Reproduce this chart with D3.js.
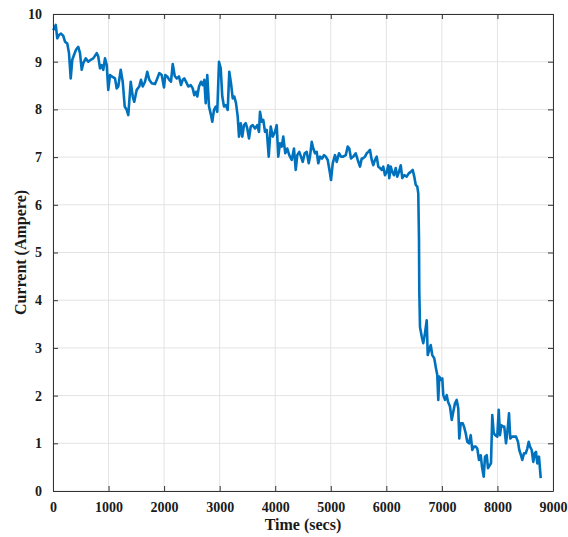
<!DOCTYPE html>
<html>
<head>
<meta charset="utf-8">
<script src="https://cdn.jsdelivr.net/npm/d3@7"></script>
<style>
  html, body { margin: 0; padding: 0; background: #fff; }
  svg { display: block; }
</style>
</head>
<body>
<div id="chart"></div>
<script>
// Measured current over time
const timeSecs = [
  5, 49, 77, 108, 144, 185, 216, 257, 288, 319, 347, 378, 414, 455, 486, 517, 545, 589, 635, 679,
  725, 787, 815, 846, 877, 905, 936, 967, 995, 1026, 1057, 1116, 1147, 1175, 1219, 1255, 1291, 1327, 1355, 1399,
  1435, 1463, 1507, 1553, 1584, 1615, 1656, 1697, 1733, 1777, 1836, 1877, 1913, 1957, 1998, 2021, 2057, 2093, 2124, 2155,
  2191, 2227, 2268, 2304, 2335, 2363, 2407, 2435, 2479, 2515, 2543, 2574, 2597, 2628, 2664, 2695, 2723, 2749, 2777, 2808,
  2844, 2867, 2898, 2929, 2957, 2988, 3019, 3047, 3078, 3109, 3145, 3173, 3204, 3235, 3263, 3294, 3325, 3348, 3379, 3407,
  3438, 3469, 3497, 3528, 3559, 3595, 3636, 3677, 3708, 3726, 3757, 3785, 3816, 3847, 3883, 3919, 3955, 3996, 4027, 4055,
  4086, 4117, 4145, 4181, 4217, 4253, 4297, 4338, 4369, 4397, 4433, 4464, 4495, 4531, 4567, 4603, 4626, 4657, 4685, 4716,
  4747, 4775, 4806, 4842, 4878, 4909, 4945, 4986, 5004, 5035, 5076, 5107, 5148, 5184, 5225, 5269, 5305, 5333, 5364, 5405,
  5449, 5485, 5526, 5557, 5575, 5616, 5647, 5675, 5706, 5737, 5765, 5796, 5827, 5855, 5886, 5917, 5945, 5976, 6007, 6035,
  6053, 6079, 6107, 6138, 6169, 6197, 6228, 6259, 6287, 6323, 6367, 6403, 6439, 6475, 6503, 6529, 6557, 6575, 6588, 6593,
  6606, 6637, 6665, 6696, 6727, 6745, 6773, 6799, 6827, 6863, 6894, 6917, 6935, 6953, 6984, 7007, 7025, 7056, 7087, 7110,
  7146, 7177, 7205, 7236, 7267, 7295, 7313, 7339, 7375, 7398, 7429, 7457, 7488, 7519, 7547, 7578, 7609, 7637, 7668, 7699,
  7722, 7753, 7776, 7807, 7830, 7861, 7884, 7907, 7933, 7961, 7997, 8023, 8046, 8069, 8100, 8123, 8154, 8185, 8208, 8231,
  8262, 8298, 8334, 8370, 8393, 8424, 8447, 8478, 8509, 8537, 8563, 8586, 8617, 8645, 8671, 8694, 8717, 8748, 8779
];
const currentAmp = [
  9.66, 9.77, 9.49, 9.56, 9.59, 9.54, 9.42, 9.38, 9.18, 8.65, 9.04, 9.14, 9.25, 9.31, 9.18, 8.83, 8.97, 9.07, 9.00, 9.04,
  9.07, 9.18, 9.11, 8.86, 8.93, 8.83, 9.07, 8.93, 8.41, 8.72, 8.69, 8.65, 8.44, 8.48, 8.83, 8.58, 8.06, 7.99, 7.88, 8.58,
  8.27, 8.16, 8.41, 8.48, 8.62, 8.48, 8.58, 8.79, 8.62, 8.55, 8.53, 8.65, 8.76, 8.72, 8.46, 8.72, 8.69, 8.62, 8.58, 8.95,
  8.70, 8.65, 8.69, 8.51, 8.62, 8.65, 8.55, 8.48, 8.51, 8.44, 8.30, 8.37, 8.27, 8.48, 8.58, 8.51, 8.62, 8.13, 8.72, 8.06,
  7.88, 7.74, 7.99, 8.06, 7.95, 9.00, 8.86, 8.27, 8.06, 8.09, 7.99, 8.79, 8.55, 8.23, 8.27, 8.13, 7.85, 7.43, 7.71, 7.43,
  7.67, 7.71, 7.60, 7.39, 7.64, 7.67, 7.60, 7.67, 7.53, 7.95, 7.74, 7.78, 7.53, 7.57, 7.01, 7.64, 7.43, 7.53, 7.67, 7.01,
  7.29, 7.22, 7.43, 7.08, 7.18, 7.04, 6.94, 7.18, 6.73, 7.04, 7.11, 7.01, 6.90, 7.08, 7.11, 6.87, 7.01, 7.32, 7.18, 7.08,
  7.11, 6.87, 7.01, 6.97, 7.04, 7.01, 6.94, 6.66, 6.52, 6.87, 7.04, 6.90, 7.08, 7.01, 7.01, 7.04, 7.22, 7.18, 6.97, 7.01,
  7.08, 6.94, 6.80, 6.97, 6.97, 7.01, 7.08, 7.11, 7.15, 6.94, 6.83, 6.94, 7.01, 6.80, 6.77, 6.73, 6.80, 6.62, 6.69, 6.83,
  6.56, 6.80, 6.69, 6.62, 6.77, 6.59, 6.69, 6.83, 6.56, 6.62, 6.59, 6.66, 6.69, 6.73, 6.59, 6.42, 6.38, 6.24, 5.26, 4.21,
  3.44, 3.24, 3.10, 3.31, 3.58, 2.85, 2.96, 3.06, 2.85, 2.78, 2.57, 2.43, 1.91, 2.40, 2.33, 2.36, 2.01, 1.91, 2.01, 1.87,
  1.77, 1.49, 1.66, 1.84, 1.91, 1.73, 1.10, 1.42, 1.42, 1.35, 1.21, 1.03, 1.00, 1.17, 0.86, 0.93, 0.93, 0.89, 0.65, 0.75,
  0.51, 0.30, 0.72, 0.75, 0.48, 0.54, 0.58, 1.59, 1.21, 1.17, 1.14, 1.70, 1.17, 1.38, 1.35, 1.35, 1.00, 1.31, 1.63, 1.10,
  1.14, 1.14, 1.14, 1.03, 0.86, 0.75, 0.65, 0.79, 0.79, 0.89, 1.03, 0.93, 0.86, 0.61, 0.79, 0.82, 0.58, 0.72, 0.27
];

const xTicks = [0, 1000, 2000, 3000, 4000, 5000, 6000, 7000, 8000, 9000];
const yTicks = [0, 1, 2, 3, 4, 5, 6, 7, 8, 9, 10];
const xLabel = "Time (secs)";
const yLabel = "Current (Ampere)";

const width = 568, height = 537;
const margin = { top: 14, right: 15, bottom: 46, left: 53 };
const innerW = width - margin.left - margin.right;
const innerH = height - margin.top - margin.bottom;

const svg = d3.select("#chart").append("svg")
  .attr("width", width)
  .attr("height", height);

const g = svg.append("g").attr("transform", `translate(${margin.left},${margin.top})`);

const x = d3.scaleLinear().domain([0, 9000]).range([0, innerW]);
const y = d3.scaleLinear().domain([0, 10]).range([innerH, 0]);

const font = "'Liberation Serif', 'Times New Roman', serif";
const axisColor = "#333";

// grid
g.append("g").selectAll("line").data(xTicks).join("line")
  .attr("x1", d => x(d)).attr("x2", d => x(d))
  .attr("y1", 0).attr("y2", innerH)
  .attr("stroke", "#e3e3e3").attr("stroke-width", 1);
g.append("g").selectAll("line").data(yTicks).join("line")
  .attr("x1", 0).attr("x2", innerW)
  .attr("y1", d => y(d)).attr("y2", d => y(d))
  .attr("stroke", "#e3e3e3").attr("stroke-width", 1);

// data line
const pts = timeSecs.map((t, i) => [t, currentAmp[i]]);
g.append("path")
  .datum(pts)
  .attr("fill", "none")
  .attr("stroke", "#0072BD")
  .attr("stroke-width", 2.6)
  .attr("stroke-linejoin", "round")
  .attr("d", d3.line().x(d => x(d[0])).y(d => y(d[1])));

// axes with inward ticks
function styleAxis(sel, showText) {
  sel.select(".domain").attr("stroke", axisColor).attr("stroke-width", 1);
  sel.selectAll(".tick line").attr("stroke", axisColor);
  sel.selectAll(".tick text")
    .attr("fill", "#1a1a1a")
    .style("font-family", font)
    .style("font-weight", "bold")
    .style("font-size", "14px")
    .style("display", showText ? null : "none");
}

const xBottom = g.append("g").attr("transform", `translate(0,${innerH})`)
  .call(d3.axisBottom(x).tickValues(xTicks).tickSizeInner(-5).tickSizeOuter(0).tickPadding(11).tickFormat(d3.format("d")));
styleAxis(xBottom, true);

const xTop = g.append("g")
  .call(d3.axisTop(x).tickValues(xTicks).tickSizeInner(-5).tickSizeOuter(0).tickFormat(""));
styleAxis(xTop, false);

const yLeft = g.append("g")
  .call(d3.axisLeft(y).tickValues(yTicks).tickSizeInner(-5).tickSizeOuter(0).tickPadding(11).tickFormat(d3.format("d")));
styleAxis(yLeft, true);

const yRight = g.append("g").attr("transform", `translate(${innerW},0)`)
  .call(d3.axisRight(y).tickValues(yTicks).tickSizeInner(-5).tickSizeOuter(0).tickFormat(""));
styleAxis(yRight, false);

// axis titles
g.append("text")
  .attr("x", innerW / 2)
  .attr("y", innerH + 39)
  .attr("text-anchor", "middle")
  .attr("fill", "#1a1a1a")
  .style("font-family", font)
  .style("font-weight", "bold")
  .style("font-size", "16px")
  .text(xLabel);

g.append("text")
  .attr("transform", `translate(${26 - margin.left},${innerH / 2}) rotate(-90)`)
  .attr("text-anchor", "middle")
  .attr("fill", "#1a1a1a")
  .style("font-family", font)
  .style("font-weight", "bold")
  .style("font-size", "16px")
  .text(yLabel);
</script>
</body>
</html>
